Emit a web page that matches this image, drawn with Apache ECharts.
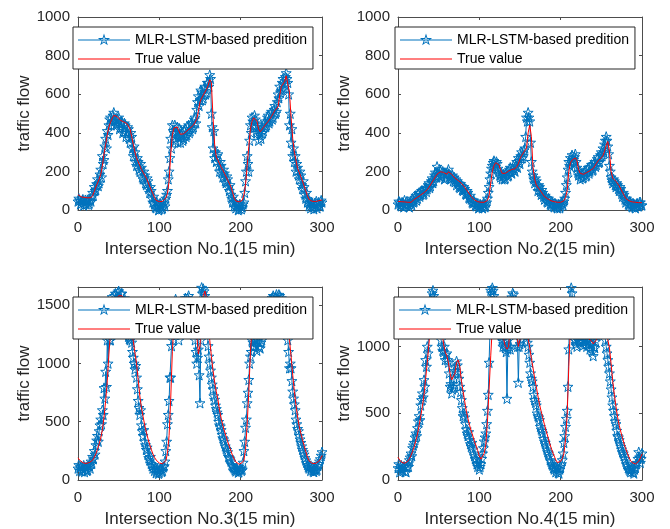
<!DOCTYPE html>
<html>
<head>
<meta charset="utf-8">
<script src="https://cdn.jsdelivr.net/npm/echarts@6/dist/echarts.min.js"></script>
<style>html,body{margin:0;padding:0;background:#fff;}#c{width:670px;height:529px;}</style>
</head>
<body>
<div id="c"></div>
<script>
// sample indices (15 min intervals): predictions at every sample, true values every 2nd sample
const xsPred = [];
for (let i = 0; i <= 300; i++) xsPred.push(i);
const xsTrue = [];
for (let i = 0; i <= 150; i++) xsTrue.push(i * 2);

const xTicks = [0, 100, 200, 300];
const xNames = ['Intersection No.1(15 min)', 'Intersection No.2(15 min)', 'Intersection No.3(15 min)', 'Intersection No.4(15 min)'];
const yName = 'traffic flow';
const predName = 'MLR-LSTM-based predition';
const trueName = 'True value';
const yMax = [1000, 1000, 1655, 1446];
const yStep = [200, 200, 500, 500];

const true1 = [80,72,68,66,65,64,63,62,64,75,
 95,120,140,160,185,230,290,340,390,430,
 455,475,490,493,485,475,465,460,457,452,
 448,438,420,380,340,300,270,250,230,210,
 195,180,165,145,125,105,85,65,50,44,
 43,43,45,50,62,85,150,290,390,425,
 435,430,410,392,390,395,402,410,418,425,
 432,440,455,470,510,560,580,595,605,625,
 645,675,660,480,340,275,258,240,222,207,
 190,172,155,138,120,92,62,47,43,42,
 43,50,80,130,230,330,420,460,478,482,
 460,420,405,415,428,440,450,460,472,485,
 500,515,525,535,595,640,650,665,695,690,
 610,480,370,300,258,215,195,172,150,125,
 100,75,55,47,45,44,44,46,48,50,
 52];
const pred1 = [45,60,50,30,35,48,55,25,40,52,30,45,50,28,35,55,45,70,90,75,
 120,100,105,135,160,125,140,185,210,170,280,240,260,330,370,320,410,390,440,470,
 480,440,460,490,505,460,470,440,450,470,480,420,430,460,450,400,410,450,440,380,
 400,430,420,370,350,400,380,320,280,330,300,250,230,270,250,210,200,240,220,170,
 160,200,180,140,130,165,150,110,90,120,100,60,40,70,30,15,10,40,25,0,
 5,35,20,5,10,45,35,20,60,80,100,160,200,270,370,320,440,410,400,440,
 360,400,430,350,380,420,350,390,400,360,370,410,420,380,390,430,440,400,410,450,
 450,420,430,470,480,450,520,560,590,540,570,620,610,570,580,630,640,600,610,660,
 660,640,700,680,500,430,320,410,270,300,250,280,290,230,200,250,230,190,170,210,
 190,150,140,175,160,120,100,130,80,60,40,70,20,40,10,30,25,0,5,30,
 20,5,15,30,40,90,150,200,280,240,200,360,440,400,480,460,440,490,470,430,
 400,440,360,410,390,370,430,400,410,450,460,430,440,480,490,450,460,500,510,470,
 480,520,540,500,510,560,600,580,640,610,620,660,680,630,650,690,710,680,660,600,
 440,500,350,420,280,320,250,280,200,240,220,180,160,200,180,130,110,150,120,80,
 60,90,40,55,20,35,10,40,30,15,5,35,25,45,10,30,40,20,20,50,
 40];
const true2 = [45,44,43,42,42,42,40,38,40,48,
 55,60,66,72,78,85,90,96,105,118,
 130,145,158,172,185,195,198,200,195,190,
 185,198,200,185,175,165,160,153,146,138,
 130,118,106,94,82,70,60,52,46,43,
 42,40,38,40,45,50,75,140,200,230,
 245,248,235,210,190,185,190,196,202,206,
 210,212,214,225,240,265,282,295,305,320,
 400,440,380,220,160,130,118,106,94,82,
 70,64,58,52,48,45,43,41,40,40,
 40,43,48,65,100,200,245,258,265,270,
 255,210,190,180,185,190,194,198,204,210,
 215,228,242,255,262,270,282,305,335,355,
 300,200,165,158,148,140,125,108,92,76,
 60,54,48,44,42,40,40,39,38,38,
 38];
const pred2 = [30,45,40,25,20,40,35,15,50,30,25,45,30,20,15,40,35,25,60,40,
 45,65,75,50,60,85,90,70,80,100,100,80,85,110,115,95,110,130,140,115,
 125,150,165,140,150,180,195,170,225,190,180,210,205,175,170,200,190,160,165,190,
 180,195,210,185,175,160,165,180,150,170,145,160,130,150,140,120,115,135,125,105,
 100,120,110,85,80,100,90,65,60,75,55,40,35,50,40,25,20,35,30,10,
 15,30,25,15,10,35,30,15,20,40,60,90,120,160,190,215,230,245,255,235,
 225,250,240,215,200,180,170,190,160,175,185,160,165,190,200,175,180,210,220,195,
 190,215,230,205,200,230,250,220,270,255,240,280,300,270,280,310,320,380,480,460,
 505,480,460,350,250,200,180,160,140,165,150,125,100,130,120,95,80,105,90,70,
 55,75,65,45,40,60,50,30,25,45,35,20,15,35,30,15,10,30,25,10,
 20,40,35,25,45,60,90,130,170,210,250,230,270,250,285,260,240,275,290,250,
 220,195,180,200,160,175,190,165,170,195,205,175,180,210,220,190,200,225,235,205,
 210,240,250,225,235,265,275,245,250,285,300,280,320,300,340,360,380,360,330,290,
 230,200,170,155,140,160,150,130,120,140,130,110,100,120,110,85,70,90,80,55,
 40,60,50,30,25,45,35,20,15,35,30,15,10,30,35,20,20,40,40,25,
 25];
const true3 = [190,170,155,148,145,142,145,150,158,170,
 195,225,265,310,360,430,540,680,850,1080,
 1270,1400,1480,1530,1560,1580,1590,1580,1560,1530,
 1480,1420,1350,1270,1190,1090,1000,860,720,620,
 545,470,410,355,305,265,225,195,172,155,
 145,140,140,148,165,230,380,700,1100,1350,
 1450,1500,1520,1500,1480,1500,1520,1540,1550,1540,
 1520,1480,1400,1250,1080,1150,1400,1580,1620,1560,
 1400,1200,1060,940,840,760,690,600,530,470,
 420,375,330,290,250,210,180,155,140,135,
 140,150,170,260,480,760,1100,1300,1380,1350,
 1300,1260,1250,1280,1330,1390,1440,1480,1510,1530,
 1540,1550,1560,1560,1550,1530,1500,1460,1400,1320,
 1200,1060,900,760,640,540,460,400,345,295,
 245,200,165,148,142,140,142,148,160,180,
 210];
const pred3 = [100,130,80,110,120,75,90,125,70,100,110,80,85,120,130,100,160,140,200,180,
 250,220,300,340,380,330,420,470,520,480,600,560,790,700,930,800,1200,1000,1250,1200,
 1200,1450,1570,1500,1520,1580,1600,1530,1540,1610,1620,1560,1550,1600,1600,1520,1500,1560,1450,1400,
 1380,1300,1230,1210,1200,1230,1180,1100,1050,1000,950,980,880,780,680,620,560,600,470,420,
 380,430,330,300,260,280,220,190,170,200,140,120,100,130,80,100,60,75,90,55,
 65,90,100,70,80,110,120,160,250,330,480,560,680,880,880,1150,1400,1200,1500,1450,
 1550,1500,1480,1380,1200,1350,1450,1500,1530,1480,1470,1530,1560,1500,1500,1560,1580,1530,1520,1500,
 1480,1420,1350,1280,1200,1100,1000,1050,1120,900,660,1200,1650,1600,1640,1620,1580,1500,1450,1300,
 1150,1060,1000,940,880,820,780,720,690,640,610,580,560,500,470,460,430,390,360,350,
 330,290,270,260,240,200,190,180,160,130,120,110,100,85,75,100,90,65,70,95,
 100,80,90,150,250,330,450,520,660,750,860,1000,1060,1100,1200,1180,1140,1210,1200,1150,
 1110,1200,1180,1140,1130,1180,1200,1250,1300,1380,1420,1450,1500,1530,1480,1520,1550,1510,1500,1560,
 1580,1540,1520,1570,1590,1550,1540,1590,1580,1520,1560,1500,1480,1450,1420,1350,1300,1250,1200,1100,
 960,1000,960,850,760,700,650,600,520,480,440,420,380,350,320,290,260,240,220,190,
 170,150,130,110,100,120,80,95,110,75,70,90,100,80,90,120,140,160,180,210,
 240];
const true4 = [170,150,135,125,125,130,140,160,185,215,
 250,295,345,410,480,550,640,760,880,1020,
 1150,1250,1320,1350,1340,1300,1220,1120,1020,960,
 930,880,800,750,740,800,880,900,850,740,
 665,590,516,460,410,367,330,290,255,220,
 180,156,160,200,268,440,680,930,1150,1300,
 1350,1330,1280,1200,1120,1050,1000,980,1000,1150,
 1300,1330,1250,1100,1000,1050,1150,1200,1200,1130,
 1060,990,910,840,764,700,630,566,515,465,
 417,370,330,285,245,210,180,150,131,130,
 140,160,200,300,491,850,1150,1250,1200,1120,
 1080,1060,1050,1060,1070,1080,1070,1060,1050,1040,
 1020,1010,1050,1120,1200,1260,1300,1250,1150,1050,
 988,870,740,640,550,470,410,360,315,270,
 235,200,170,145,130,120,120,125,140,165,
 195];
const pred4 = [90,120,60,90,110,80,70,100,100,65,60,95,120,100,150,170,200,180,240,260,
 280,320,350,330,390,440,480,450,560,600,650,620,750,700,900,850,1000,950,1300,1200,
 1350,1300,1400,1420,1380,1340,1300,1330,1250,1220,1200,1150,1100,1050,1000,970,960,1000,900,940,
 950,900,880,800,700,720,650,680,700,760,820,850,890,860,800,760,700,660,600,540,
 480,500,470,420,380,350,330,360,300,270,250,280,230,200,180,160,150,120,100,130,
 80,100,120,160,200,240,290,320,350,420,520,640,880,1100,1420,1400,1440,1420,1380,1340,
 1300,1280,1250,1200,1180,1130,1100,1080,1050,1000,1020,1040,990,960,610,980,1050,1000,980,1200,
 1370,1400,1390,1300,1200,1150,1100,1000,730,1000,1020,1050,1120,1180,1200,1210,1150,1120,1080,1030,
 1000,940,880,800,760,740,700,640,600,580,560,500,480,470,450,400,380,370,350,310,
 290,280,260,230,210,200,180,150,140,120,110,90,80,100,60,75,90,55,50,80,
 100,120,150,200,280,330,400,460,520,700,980,1250,1470,1440,1400,1200,1100,1050,1050,1020,
 1000,1050,1080,1040,1030,1070,1100,1040,1010,1050,1060,1020,1000,1060,1040,1010,980,1030,1020,960,
 930,1000,990,1040,1080,1100,1150,1180,1220,1250,1300,1250,1200,1150,1100,1050,1000,950,900,850,
 800,740,680,620,560,520,480,440,420,370,330,320,300,270,250,230,210,200,180,160,
 140,120,110,90,80,70,60,80,90,60,50,80,100,120,130,160,210,170,130,160,
 200];

const trues = [true1, true2, true3, true4];
const preds = [pred1, pred2, pred3, pred4];

const FONT = '"Liberation Sans", Arial, Helvetica, sans-serif';
const TXT = '#262626';
const LINE = '#4d4d4d';
const BLUE = '#0072BD';
const RED = '#FF0000';
const STAR = 'path://M0,-10 L2.35,-3.24 L9.51,-3.09 L3.8,1.24 L5.88,8.09 L0,4 L-5.88,8.09 L-3.8,1.24 L-9.51,-3.09 L-2.35,-3.24 Z';
// legend icons (52x14 box): thin line, with a hollow star for the prediction entry
const BOX = 'M0,0L0.01,0L0,0.01Z M52,14L51.99,14L52,13.99Z ';
const ICON_LINE = 'M0,6.5L52,6.5L52,7.5L0,7.5Z ';
const ICON_STAR = 'M26,0.5L27.46,4.99L32.18,4.99L28.36,7.77L29.82,12.26L26,9.48L22.18,12.26L23.64,7.77L19.82,4.99L24.54,4.99Z ' +
  'M26,3.43L25.2,5.9L22.6,5.9L24.7,7.42L23.9,9.89L26,8.36L28.1,9.89L27.3,7.42L29.4,5.9L26.8,5.9Z';
const ICON_PRED = 'path://' + BOX + ICON_LINE + ICON_STAR;
const ICON_TRUE = 'path://' + BOX + ICON_LINE;

const gridPos = [
  {left: 78, top: 17, width: 244, height: 193},
  {left: 398, top: 17, width: 244, height: 193},
  {left: 78, top: 287, width: 244, height: 194},
  {left: 398, top: 287, width: 244, height: 194}
];
const legendPos = [
  {left: 73, top: 27},
  {left: 395, top: 27},
  {left: 73, top: 297},
  {left: 394, top: 297}
];

const grid = [], xAxis = [], yAxis = [], series = [], legend = [];
for (let g = 0; g < 4; g++) {
  grid.push(Object.assign({containLabel: false}, gridPos[g]));
  const step = yStep[g];
  const common = {
    gridIndex: g, type: 'value',
    axisLine: {show: true, onZero: false, lineStyle: {color: LINE, width: 1}},
    axisTick: {show: true, inside: true, length: 3, lineStyle: {color: LINE}},
    splitLine: {show: false}
  };
  xAxis.push(Object.assign({}, common, {
    position: 'bottom', min: 0, max: 300, interval: 100,
    name: xNames[g], nameLocation: 'middle', nameGap: 31,
    nameTextStyle: {fontFamily: FONT, fontSize: 17, color: TXT},
    axisLabel: {fontFamily: FONT, fontSize: 15, color: TXT, margin: 10}
  }));
  xAxis.push(Object.assign({}, common, {
    position: 'top', min: 0, max: 300, interval: 100, axisLabel: {show: false}
  }));
  yAxis.push(Object.assign({}, common, {
    position: 'left', min: 0, max: yMax[g], interval: step,
    name: yName, nameLocation: 'middle', nameGap: 44,
    nameTextStyle: {fontFamily: FONT, fontSize: 17, color: TXT},
    axisLabel: {fontFamily: FONT, fontSize: 15, color: TXT, margin: 8,
      formatter: v => (v % step === 0 ? String(v) : '')}
  }));
  yAxis.push(Object.assign({}, common, {
    position: 'right', min: 0, max: yMax[g], interval: step, axisLabel: {show: false}
  }));
  series.push({
    name: predName, type: 'line', xAxisIndex: 2 * g, yAxisIndex: 2 * g,
    data: xsPred.map((x, i) => [x, preds[g][i]]),
    symbol: STAR, symbolSize: 10, showSymbol: true, showAllSymbol: true,
    lineStyle: {color: BLUE, width: 1},
    itemStyle: {color: 'rgba(255,255,255,0)', borderColor: BLUE, borderWidth: 1},
    emphasis: {disabled: true}, clip: true, z: 2
  });
  series.push({
    name: trueName, type: 'line', xAxisIndex: 2 * g, yAxisIndex: 2 * g,
    data: xsTrue.map((x, i) => [x, trues[g][i]]),
    symbol: 'none',
    lineStyle: {color: RED, width: 1},
    itemStyle: {color: RED},
    emphasis: {disabled: true}, clip: true, z: 3
  });
  legend.push(Object.assign({
    orient: 'vertical',
    data: [
      {name: predName, icon: ICON_PRED, itemStyle: {color: BLUE, borderWidth: 0}},
      {name: trueName, icon: ICON_TRUE, itemStyle: {color: RED, borderWidth: 0}}
    ],
    itemWidth: 52, itemHeight: 14, itemGap: 5,
    padding: [6, 6, 3, 5],
    backgroundColor: '#fff', borderColor: '#262626', borderWidth: 1, borderRadius: 0,
    textStyle: {fontFamily: FONT, fontSize: 14, color: '#000'},
    selectedMode: false, z: 10
  }, legendPos[g]));
}

const chart = echarts.init(document.getElementById('c'), null, {renderer: 'canvas'});
chart.setOption({
  animation: false,
  backgroundColor: '#fff',
  grid, xAxis, yAxis, series, legend
});
</script>
</body>
</html>
